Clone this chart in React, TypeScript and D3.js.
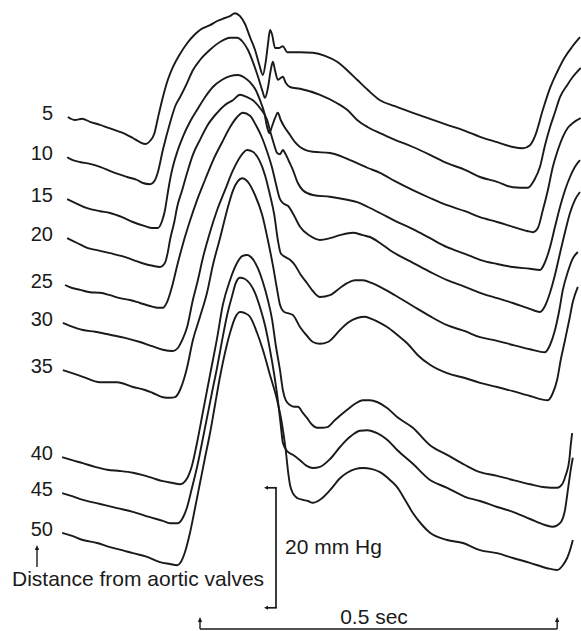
import React from "react";
import * as d3 from "d3";

// Distance from aortic valves (cm) for each recorded pressure trace
const distances = [5, 10, 15, 20, 25, 30, 35, 40, 45, 50];

// Each trace: [time (ms), displayed pressure level (mmHg, traces offset vertically)]
const trace05: [number, number][] = [
  [11, 85.5], [21, 85.0], [31, 85.2], [42, 84.7], [56, 84.2], [77, 83.3], [91, 82.7], [102, 82.0], [112, 81.3], [120, 81.0],
  [126, 81.5], [132, 82.7], [137, 85.3], [144, 88.8], [151, 91.7], [158, 93.8], [168, 96.0], [178, 97.8], [189, 99.3], [196, 100.0],
  [210, 100.8], [220, 101.5], [231, 102.0], [238, 102.3], [245, 102.8], [252, 102.3], [259, 101.0], [266, 98.8], [273, 96.7], [279, 94.2],
  [284, 92.5], [288, 94.7], [291, 97.5], [294, 100.0], [297, 99.2], [301, 97.0], [307, 97.0], [312, 97.3], [318, 96.3], [336, 96.3],
  [354, 96.2], [371, 95.7], [388, 94.7], [402, 93.3], [416, 91.7], [431, 90.0], [448, 88.3], [469, 87.3], [494, 86.2], [518, 85.2],
  [542, 84.2], [567, 83.2], [588, 82.2], [612, 81.3], [634, 80.5], [648, 80.3], [658, 80.8], [665, 82.3], [676, 86.7], [686, 90.3],
  [696, 93.0], [707, 95.5], [717, 97.2], [728, 98.8],
];
const trace10: [number, number][] = [
  [10, 78.8], [18, 78.3], [28, 78.0], [42, 77.7], [56, 77.2], [74, 76.3], [94, 75.5], [108, 75.0], [116, 74.5], [126, 74.3],
  [133, 75.0], [137, 76.3], [144, 80.0], [154, 84.5], [162, 87.5], [168, 88.8], [178, 91.2], [186, 93.3], [196, 95.0], [210, 96.7],
  [224, 98.0], [238, 98.7], [248, 98.7], [256, 98.0], [263, 96.7], [270, 94.7], [277, 92.3], [283, 90.0], [287, 88.7], [291, 90.3],
  [295, 93.3], [298, 94.7], [301, 93.3], [305, 91.7], [312, 92.2], [316, 91.2], [322, 90.5], [336, 90.2], [364, 89.2], [388, 87.8],
  [402, 86.7], [416, 85.0], [431, 83.8], [448, 82.8], [469, 81.7], [494, 80.5], [518, 79.2], [542, 77.8], [567, 76.7], [588, 75.5],
  [612, 74.7], [634, 73.8], [655, 73.7], [664, 75.0], [672, 77.2], [679, 80.8], [686, 83.8], [693, 86.3], [700, 88.8], [710, 90.8],
  [718, 92.2], [729, 93.7],
];
const trace15: [number, number][] = [
  [10, 71.8], [21, 71.2], [38, 70.3], [56, 69.8], [70, 69.5], [87, 68.8], [102, 68.0], [119, 67.3], [129, 67.0], [137, 67.0],
  [143, 68.2], [147, 70.0], [150, 72.2], [154, 75.0], [158, 77.2], [165, 80.0], [172, 82.2], [182, 84.7], [192, 86.7], [203, 88.8],
  [214, 90.5], [227, 91.7], [238, 92.3], [249, 92.5], [259, 92.0], [266, 91.3], [274, 90.0], [280, 88.3], [286, 86.2], [290, 83.8],
  [293, 82.8], [297, 84.0], [301, 85.3], [305, 86.2], [309, 85.0], [315, 83.7], [322, 82.5], [329, 81.3], [336, 80.5], [354, 79.7],
  [378, 79.5], [399, 78.7], [416, 77.8], [431, 77.0], [448, 76.2], [469, 74.8], [494, 73.3], [518, 72.0], [542, 70.8], [567, 69.8],
  [588, 68.8], [612, 68.0], [634, 67.2], [654, 66.5], [662, 66.3], [669, 67.0], [676, 70.0], [683, 73.3], [690, 77.2], [697, 80.0],
  [704, 82.2], [711, 83.7], [718, 84.5], [729, 85.3],
];
const trace20: [number, number][] = [
  [10, 65.3], [24, 64.5], [38, 63.7], [56, 63.2], [70, 62.8], [87, 62.3], [102, 61.7], [119, 61.0], [130, 60.7], [140, 60.5],
  [147, 61.2], [151, 63.0], [154, 65.0], [160, 68.0], [164, 70.5], [171, 73.3], [178, 76.2], [186, 79.2], [196, 81.7], [207, 84.2],
  [220, 86.2], [231, 87.5], [242, 88.3], [252, 89.2], [262, 88.8], [270, 88.3], [280, 87.0], [290, 85.0], [295, 82.8], [300, 80.8],
  [304, 79.5], [308, 79.3], [312, 80.0], [315, 79.5], [321, 78.0], [326, 76.7], [333, 74.5], [340, 73.3], [354, 72.5], [378, 72.2],
  [402, 71.7], [416, 71.3], [431, 70.5], [448, 69.5], [469, 68.2], [494, 66.8], [518, 65.3], [542, 63.8], [567, 62.7], [588, 61.7],
  [612, 61.0], [634, 60.5], [658, 60.2], [672, 60.0], [679, 61.3], [686, 63.8], [693, 67.2], [700, 70.5], [707, 73.3], [714, 75.5],
  [721, 77.2], [728, 78.3],
];
const trace25: [number, number][] = [
  [7, 57.5], [17, 57.0], [28, 56.7], [42, 56.3], [56, 56.2], [70, 55.8], [84, 55.3], [98, 55.0], [112, 54.5], [126, 54.0],
  [137, 53.7], [144, 53.7], [150, 54.7], [157, 57.3], [164, 60.7], [172, 64.3], [182, 68.2], [192, 71.7], [203, 75.0], [214, 78.2],
  [227, 81.3], [238, 83.8], [248, 85.5], [256, 86.2], [266, 85.7], [274, 84.2], [283, 82.0], [290, 79.7], [297, 77.0], [302, 74.5],
  [308, 71.8], [314, 71.0], [319, 70.7], [328, 69.0], [336, 67.2], [350, 65.7], [364, 65.0], [378, 65.3], [392, 65.8], [410, 66.2],
  [424, 65.8], [434, 65.5], [448, 64.5], [462, 63.3], [476, 62.3], [494, 61.2], [518, 59.7], [542, 58.3], [567, 57.2], [588, 56.2],
  [612, 55.3], [634, 54.5], [654, 53.7], [672, 53.0], [679, 54.0], [686, 56.2], [693, 59.2], [700, 62.8], [707, 66.3], [714, 69.5],
  [721, 71.7], [728, 73.0],
];
const trace30: [number, number][] = [
  [4, 51.2], [14, 50.7], [32, 50.0], [49, 49.7], [70, 49.2], [91, 48.7], [112, 48.0], [129, 47.3], [144, 46.7], [158, 46.5],
  [165, 47.0], [171, 48.3], [178, 50.5], [186, 55.0], [193, 58.3], [200, 62.0], [210, 66.3], [220, 70.0], [231, 73.3], [241, 76.3],
  [252, 78.8], [262, 80.0], [270, 79.7], [279, 78.3], [287, 75.8], [294, 72.5], [300, 69.2], [305, 65.0], [309, 62.8], [315, 62.2],
  [322, 61.7], [329, 60.8], [337, 59.2], [346, 57.8], [354, 56.5], [364, 55.5], [378, 55.8], [392, 57.0], [402, 57.8], [413, 58.3],
  [424, 58.3], [437, 57.8], [448, 57.2], [469, 55.8], [494, 54.0], [518, 52.3], [542, 50.8], [567, 49.8], [588, 48.8], [612, 48.2],
  [634, 47.5], [658, 46.8], [679, 46.3], [686, 47.5], [693, 50.0], [699, 53.3], [704, 56.7], [711, 59.7], [717, 61.7], [725, 63.0],
];
const trace35: [number, number][] = [
  [4, 43.3], [17, 42.8], [32, 42.2], [56, 41.3], [80, 41.3], [102, 40.5], [119, 40.0], [130, 39.5], [144, 38.8], [154, 38.7],
  [161, 38.8], [168, 40.0], [174, 42.0], [178, 43.8], [186, 48.3], [196, 52.2], [206, 56.3], [214, 60.8], [224, 65.3], [234, 70.0],
  [242, 73.2], [249, 74.8], [255, 75.3], [263, 74.7], [273, 72.5], [283, 69.2], [291, 65.0], [298, 60.8], [304, 56.7], [308, 54.2],
  [314, 53.0], [319, 52.8], [326, 52.5], [336, 50.5], [346, 49.0], [354, 48.0], [364, 47.7], [375, 48.0], [392, 50.0], [403, 51.2],
  [416, 52.0], [427, 52.2], [437, 51.8], [448, 51.2], [458, 50.5], [472, 49.2], [486, 47.8], [501, 45.8], [518, 44.2], [542, 42.8],
  [567, 42.0], [588, 41.2], [612, 40.5], [634, 39.8], [658, 39.0], [683, 38.3], [690, 39.5], [696, 41.7], [701, 45.0], [707, 48.3],
  [713, 51.7], [718, 54.7], [725, 57.2],
];
const trace40: [number, number][] = [
  [3, 28.8], [17, 28.3], [32, 27.8], [49, 27.2], [66, 26.7], [84, 26.5], [102, 26.2], [116, 25.8], [130, 25.3], [144, 24.8],
  [158, 24.5], [168, 24.3], [178, 25.3], [185, 27.5], [192, 31.3], [200, 36.3], [210, 42.5], [220, 48.7], [228, 54.2], [238, 58.3],
  [248, 61.2], [255, 62.3], [262, 62.5], [270, 61.8], [277, 60.3], [284, 58.0], [291, 55.0], [297, 51.7], [302, 47.5], [308, 43.3],
  [312, 40.0], [316, 38.3], [322, 37.5], [328, 37.2], [333, 37.2], [340, 36.2], [346, 35.3], [353, 34.2], [360, 33.7], [367, 33.7],
  [374, 33.8], [385, 35.0], [402, 36.7], [413, 37.7], [424, 38.3], [434, 38.3], [444, 38.0], [458, 37.0], [472, 35.5], [494, 33.7],
  [518, 30.8], [542, 29.2], [567, 27.5], [588, 26.3], [612, 25.7], [634, 25.0], [658, 24.3], [679, 23.8], [696, 23.7], [703, 24.3],
  [708, 25.8], [713, 28.3], [715, 30.8], [717, 32.8],
];
const trace45: [number, number][] = [
  [3, 22.8], [17, 22.3], [32, 21.7], [56, 21.0], [80, 20.3], [102, 19.7], [126, 18.8], [144, 18.2], [154, 17.8], [165, 17.8],
  [172, 18.7], [178, 20.5], [185, 23.8], [192, 27.2], [199, 31.3], [206, 35.5], [213, 39.7], [220, 43.8], [227, 48.3], [234, 52.5],
  [241, 55.7], [246, 57.8], [252, 58.7], [259, 58.5], [266, 57.7], [273, 56.2], [280, 53.8], [287, 50.8], [294, 46.7], [300, 42.5],
  [305, 38.3], [309, 34.2], [312, 31.2], [318, 29.8], [326, 29.2], [336, 28.3], [346, 27.3], [354, 27.0], [364, 27.2], [378, 28.5],
  [392, 30.5], [406, 32.2], [420, 33.2], [430, 33.3], [444, 32.8], [458, 31.7], [472, 30.0], [494, 27.7], [518, 25.0], [542, 23.7],
  [567, 22.2], [588, 21.5], [612, 20.5], [634, 19.7], [658, 18.5], [679, 17.5], [690, 17.2], [700, 17.8], [707, 20.0], [711, 23.3],
  [715, 26.7], [718, 28.7],
];
const trace50: [number, number][] = [
  [3, 16.2], [17, 15.7], [32, 15.0], [52, 14.5], [70, 13.8], [87, 13.3], [102, 12.8], [122, 12.2], [140, 11.3], [154, 11.0],
  [164, 10.8], [169, 11.3], [175, 13.0], [182, 16.2], [189, 20.3], [196, 24.5], [203, 28.7], [210, 32.8], [217, 37.5], [224, 42.2],
  [231, 46.2], [238, 49.5], [245, 52.0], [252, 53.0], [259, 52.8], [266, 52.2], [276, 49.5], [284, 46.7], [294, 42.5], [304, 38.3],
  [311, 34.2], [316, 30.0], [319, 26.7], [322, 24.2], [326, 22.8], [332, 22.0], [340, 21.7], [347, 21.5], [354, 21.2], [364, 21.7],
  [378, 23.3], [392, 25.3], [402, 26.2], [413, 26.8], [424, 27.0], [437, 26.8], [448, 26.3], [462, 25.0], [472, 23.8], [483, 21.7],
  [494, 19.5], [507, 17.5], [518, 16.2], [542, 15.0], [564, 14.5], [588, 13.3], [612, 12.8], [634, 12.0], [658, 11.2], [682, 10.3],
  [696, 10.0], [704, 10.8], [710, 12.0], [714, 13.3], [718, 15.0],
];

const traces = [trace05, trace10, trace15, trace20, trace25, trace30, trace35, trace40, trace45, trace50];

// Calibration bars
const pressureBar = { top: 23.7, span: 20, label: "20 mm Hg" };
const timeBar = { start: 196, span: 500, label: "0.5 sec" };
const axisLabel = "Distance from aortic valves";

export default function App() {
  const W = 581;
  const H = 631;
  const x = d3.scaleLinear().domain([0, 730]).range([60, 60 + 730 / 1.4]);
  const y = d3.scaleLinear().domain([0, 105]).range([630, 0]);
  const line = d3
    .line<[number, number]>()
    .x((d) => x(d[0]))
    .y((d) => y(d[1]))
    .curve(d3.curveMonotoneX);

  const font = "'Liberation Sans', Arial, Helvetica, sans-serif";
  const ink = "#1a1a1a";

  const pbX = 276;
  const pbTop = y(pressureBar.top);
  const pbBot = y(pressureBar.top - pressureBar.span);
  const tbY = 629;
  const tbX0 = x(timeBar.start);
  const tbX1 = x(timeBar.start + timeBar.span);

  const upArrow = (ax: number, y0: number, y1: number, key: string) => (
    <g key={key}>
      <line x1={ax} x2={ax} y1={y0} y2={y1 + 3} stroke={ink} strokeWidth={1.4} />
      <path d={`M${ax - 2.2},${y1 + 5} L${ax},${y1} L${ax + 2.2},${y1 + 5} Z`} fill={ink} />
    </g>
  );

  return (
    <svg
      width={W}
      height={H}
      style={{ position: "absolute", left: 0, top: 0, background: "#fff" }}
    >
      <rect width={W} height={H} fill="#fff" />
      {traces.map((tr, i) => (
        <path key={i} d={line(tr) || ""} fill="none" stroke={ink} strokeWidth={1.9} strokeLinejoin="round" />
      ))}
      {traces.map((tr, i) => (
        <text
          key={"l" + i}
          x={53}
          y={y(tr[0][1]) + 3}
          textAnchor="end"
          fontFamily={font}
          fontSize={20}
          fill={ink}
        >
          {distances[i]}
        </text>
      ))}
      {upArrow(37, 567, 545, "distArrow")}
      <text x={12} y={586} fontFamily={font} fontSize={21} fill={ink}>
        {axisLabel}
      </text>

      {/* pressure calibration bracket */}
      <line x1={pbX} x2={pbX} y1={pbTop} y2={pbBot} stroke={ink} strokeWidth={1.7} />
      <line x1={266} x2={pbX + 0.8} y1={pbTop} y2={pbTop} stroke={ink} strokeWidth={1.7} />
      <line x1={266} x2={pbX + 0.8} y1={pbBot} y2={pbBot} stroke={ink} strokeWidth={1.7} />
      <path d={`M264,${pbTop} L268,${pbTop - 2} L268,${pbTop + 2} Z`} fill={ink} />
      <path d={`M264,${pbBot} L268,${pbBot - 2} L268,${pbBot + 2} Z`} fill={ink} />
      <text x={285} y={(pbTop + pbBot) / 2 + 6} fontFamily={font} fontSize={21} fill={ink}>
        {pressureBar.label}
      </text>

      {/* time calibration bar */}
      <line x1={tbX0} x2={tbX1} y1={tbY} y2={tbY} stroke={ink} strokeWidth={1.4} />
      {upArrow(tbX0, tbY, 617, "t0")}
      {upArrow(tbX1, tbY, 617, "t1")}
      <text x={374} y={624} textAnchor="middle" fontFamily={font} fontSize={21} fill={ink}>
        {timeBar.label}
      </text>
    </svg>
  );
}
